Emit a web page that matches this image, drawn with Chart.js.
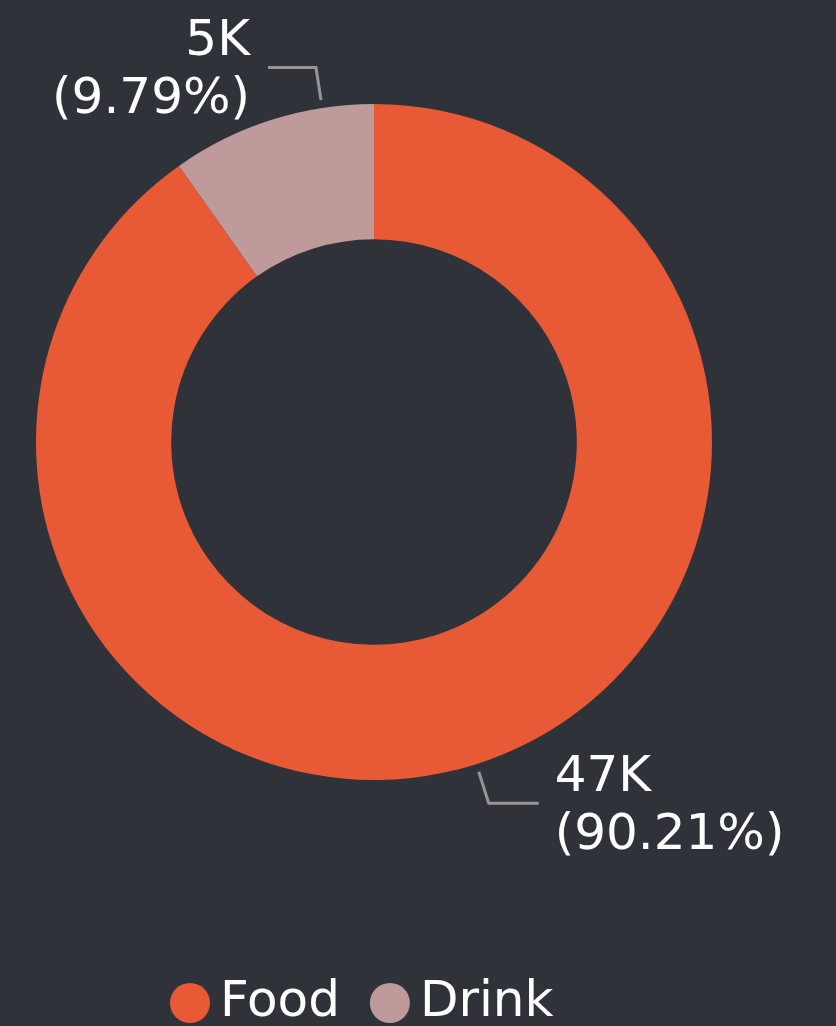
<!DOCTYPE html>
<html>
<head>
<meta charset="utf-8">
<script src="https://cdn.jsdelivr.net/npm/chart.js@4.4.0/dist/chart.umd.min.js"></script>
<style>
  html, body { margin: 0; padding: 0; background: #30323a; }
  #wrap { width: 836px; height: 1026px; position: relative; }
</style>
</head>
<body>
<div id="wrap"><canvas id="donutChart"></canvas></div>
<script>
const categories = ['Food', 'Drink'];
const sales = [47000, 5100];
const sliceColors = ['#e85a36', '#be9a9a'];
// where along each slice the leader line starts (0 = start, 1 = end)
const leaderAt = [0.5, 0.75];

const fontFamily = '"DejaVu Sans", Verdana, sans-serif';
const total = sales.reduce((a, b) => a + b, 0);
const fmtK = v => Math.round(v / 1000) + 'K';
const fmtPct = v => '(' + (v / total * 100).toFixed(2) + '%)';

const bgPlugin = {
    id: 'custom_canvas_background_color',
    beforeDraw: (chart) => {
        const {ctx} = chart;
        ctx.save();
        ctx.fillStyle = '#30323a';
        ctx.fillRect(0, 0, chart.width, chart.height);
        ctx.restore();
    }
};

const labelPlugin = {
    id: 'leader_labels',
    afterDraw: (chart) => {
        const {ctx} = chart;
        const meta = chart.getDatasetMeta(0);
        ctx.save();
        ctx.font = '50px ' + fontFamily;
        ctx.textBaseline = 'middle';
        meta.data.forEach((arc, i) => {
            const p = arc.getProps(['x', 'y', 'startAngle', 'endAngle', 'outerRadius'], true);
            const a = p.startAngle + (p.endAngle - p.startAngle) * leaderAt[i];
            const r1 = p.outerRadius + 8;
            const r2 = p.outerRadius + 41;
            const x1 = p.x + Math.cos(a) * r1, y1 = p.y + Math.sin(a) * r1;
            const x2 = p.x + Math.cos(a) * r2, y2 = p.y + Math.sin(a) * r2;
            const right = Math.cos(a) >= 0;
            const x3 = x2 + (right ? 50 : -48);
            ctx.strokeStyle = '#959595';
            ctx.lineWidth = 3;
            ctx.beginPath();
            ctx.moveTo(x1, y1);
            ctx.lineTo(x2, y2);
            ctx.lineTo(x3, y2);
            ctx.stroke();
            ctx.fillStyle = '#ffffff';
            ctx.textAlign = right ? 'left' : 'right';
            const tx = x3 + (right ? 16 : -18);
            ctx.fillText(fmtK(sales[i]), tx, y2 - 25);
            ctx.fillText(fmtPct(sales[i]), tx, y2 + 33);
        });
        ctx.restore();
    }
};

const legendPlugin = {
    id: 'bottom_legend',
    afterDraw: (chart) => {
        const {ctx} = chart;
        ctx.save();
        ctx.font = '50px ' + fontFamily;
        ctx.textBaseline = 'middle';
        ctx.textAlign = 'left';
        const y = 1003;
        let x = 170;
        categories.forEach((c, i) => {
            ctx.fillStyle = sliceColors[i];
            ctx.beginPath();
            ctx.arc(x + 20, y, 20, 0, Math.PI * 2);
            ctx.fill();
            ctx.fillStyle = '#ffffff';
            ctx.fillText(c, x + 50, y);
            x += 50 + ctx.measureText(c).width + 30;
        });
        ctx.restore();
    }
};

const data = {
    labels: categories,
    datasets: [{
        data: sales,
        backgroundColor: sliceColors,
        borderWidth: 0
    }]
};

const config = {
    type: 'doughnut',
    data: data,
    options: {
        responsive: true,
        maintainAspectRatio: false,
        animation: false,
        cutout: '60%',
        layout: { padding: { left: 36, right: 124, top: 104, bottom: 246 } },
        plugins: {
            legend: { display: false },
            tooltip: { enabled: false }
        }
    },
    plugins: [bgPlugin, labelPlugin, legendPlugin]
};

const myChart = new Chart(document.getElementById('donutChart'), config);
</script>
</body>
</html>
